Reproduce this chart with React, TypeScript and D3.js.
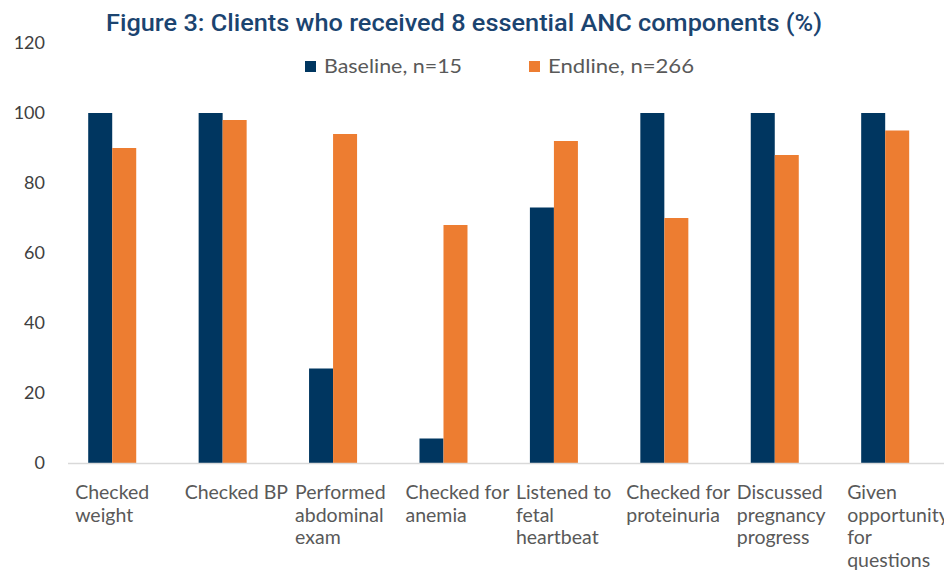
import React, { useEffect, useRef } from 'react';
import * as d3 from 'd3';

const categories = [
  ['Checked', 'weight'],
  ['Checked BP'],
  ['Performed', 'abdominal', 'exam'],
  ['Checked for', 'anemia'],
  ['Listened to', 'fetal', 'heartbeat'],
  ['Checked for', 'proteinuria'],
  ['Discussed', 'pregnancy', 'progress'],
  ['Given', 'opportunity', 'for', 'questions'],
];
const seriesNames = ['Baseline, n=15', 'Endline, n=266'];
const baseline = [100, 100, 27, 7, 73, 100, 100, 100];
const endline = [90, 98, 94, 68, 92, 70, 88, 95];
const yTicks = [0, 20, 40, 60, 80, 100, 120];
const colors = ['#003660', '#ED7D31'];

const W = 944;
const H = 573;

export default function App() {
  const ref = useRef<SVGSVGElement>(null);

  useEffect(() => {
    document.body.style.margin = '0';
    const svg = d3.select(ref.current);
    svg.selectAll('*').remove();

    const keys = categories.map((c) => c.join(' '));
    const x = d3.scaleBand().domain(keys).range([57, 940.4]);
    const xs = d3.scaleBand().domain(seriesNames).range([0, x.bandwidth()]).paddingOuter(1.3);
    const y = d3.scaleLinear().domain([0, 120]).range([463, 43]);

    const rows = keys.map((k, i) => ({ key: k, values: [baseline[i], endline[i]] }));

    // title
    svg.append('text')
      .attr('x', 464).attr('y', 31)
      .attr('text-anchor', 'middle')
      .attr('font-family', 'Roboto, sans-serif')
      .attr('font-weight', 500)
      .attr('font-size', 23)
      .attr('fill', '#1b4470')
      .attr('textLength', 716)
      .attr('lengthAdjust', 'spacingAndGlyphs')
      .text('Figure 3: Clients who received 8 essential ANC components (%)');

    // legend
    const legendX = [305, 529];
    seriesNames.forEach((s, i) => {
      svg.append('rect')
        .attr('x', legendX[i]).attr('y', 61).attr('width', 11).attr('height', 11)
        .attr('fill', colors[i]);
      svg.append('text')
        .attr('x', legendX[i] + 19).attr('y', 73)
        .attr('font-family', 'Lato, sans-serif')
        .attr('font-size', 20)
        .attr('fill', '#595959')
        .attr('textLength', i === 0 ? 138 : 146)
        .attr('lengthAdjust', 'spacingAndGlyphs')
        .text(s);
    });

    // y ticks
    svg.append('g').selectAll('text').data(yTicks).join('text')
      .attr('x', 45).attr('y', (d) => y(d))
      .attr('dy', '0.35em')
      .attr('text-anchor', 'end')
      .attr('font-family', 'Lato, sans-serif')
      .attr('font-size', 18)
      .attr('fill', '#404040')
      .text((d) => d);

    // bars
    const g = svg.append('g').selectAll('g').data(rows).join('g')
      .attr('transform', (d) => `translate(${x(d.key)},0)`);
    g.selectAll('rect').data((d) => d.values.map((v, i) => ({ s: seriesNames[i], v, c: colors[i] })))
      .join('rect')
      .attr('x', (d) => xs(d.s)!)
      .attr('y', (d) => y(d.v))
      .attr('width', xs.bandwidth())
      .attr('height', (d) => y(0) - y(d.v))
      .attr('fill', (d) => d.c);

    // axis line
    svg.append('line')
      .attr('x1', 68).attr('x2', W)
      .attr('y1', y(0) + 0.5).attr('y2', y(0) + 0.5)
      .attr('stroke', '#d9d9d9').attr('stroke-width', 1.5);

    // category labels, block left-aligned and centred on the group
    categories.forEach((lines, i) => {
      const cx = x(keys[i])! + x.bandwidth() / 2;
      const t = svg.append('text')
        .attr('font-family', 'Lato, sans-serif')
        .attr('font-size', 19.5)
        .attr('fill', '#595959');
      lines.forEach((l, j) => {
        t.append('tspan').attr('y', 499 + j * 22.7).text(l);
      });
      let maxW = 0;
      t.selectAll<SVGTSpanElement, unknown>('tspan').each(function () {
        maxW = Math.max(maxW, this.getComputedTextLength());
      });
      t.selectAll('tspan').attr('x', Math.max(cx - maxW / 2, cx - 38));
    });
  }, []);

  return <svg ref={ref} width={W} height={H} style={{ display: 'block', background: '#fff' }} />;
}
